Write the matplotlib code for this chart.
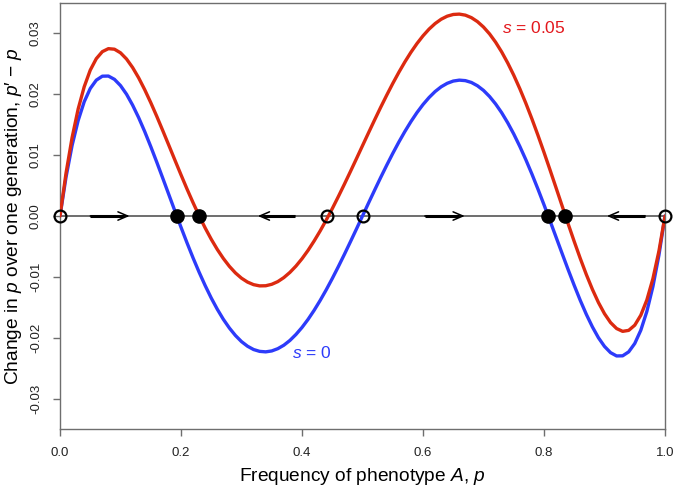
import matplotlib
matplotlib.use("Agg")
import matplotlib.pyplot as plt

plt.rcParams['font.family'] = ['Liberation Sans', 'DejaVu Sans']
plt.rcParams['mathtext.fontset'] = 'custom'
plt.rcParams['mathtext.rm'] = 'Liberation Sans'
plt.rcParams['mathtext.it'] = 'Liberation Sans:italic'

# Frequency of phenotype A
p_vals = [0.00, 0.01, 0.02, 0.03, 0.04, 0.05, 0.06, 0.07, 0.08, 0.09,
          0.10, 0.11, 0.12, 0.13, 0.14, 0.15, 0.16, 0.17, 0.18, 0.19,
          0.20, 0.21, 0.22, 0.23, 0.24, 0.25, 0.26, 0.27, 0.28, 0.29,
          0.30, 0.31, 0.32, 0.33, 0.34, 0.35, 0.36, 0.37, 0.38, 0.39,
          0.40, 0.41, 0.42, 0.43, 0.44, 0.45, 0.46, 0.47, 0.48, 0.49,
          0.50, 0.51, 0.52, 0.53, 0.54, 0.55, 0.56, 0.57, 0.58, 0.59,
          0.60, 0.61, 0.62, 0.63, 0.64, 0.65, 0.66, 0.67, 0.68, 0.69,
          0.70, 0.71, 0.72, 0.73, 0.74, 0.75, 0.76, 0.77, 0.78, 0.79,
          0.80, 0.81, 0.82, 0.83, 0.84, 0.85, 0.86, 0.87, 0.88, 0.89,
          0.90, 0.91, 0.92, 0.93, 0.94, 0.95, 0.96, 0.97, 0.98, 0.99, 1.00]

# s = 0 (blue)
dp_s0 = [0.0, 0.00639, 0.01157, 0.01564, 0.01872, 0.02089, 0.02226, 0.02291, 0.02293, 0.02239,
         0.02137, 0.01995, 0.01817, 0.01612, 0.01384, 0.01138, 0.00881, 0.00616, 0.00348, 0.00080,
         -0.00184, -0.00441, -0.00688, -0.00922, -0.01141, -0.01344, -0.01528, -0.01693, -0.01836, -0.01958,
         -0.02058, -0.02134, -0.02188, -0.02218, -0.02226, -0.02211, -0.02174, -0.02117, -0.02039, -0.01941,
         -0.01826, -0.01694, -0.01546, -0.01384, -0.01210, -0.01025, -0.00831, -0.00630, -0.00423, -0.00213,
         0.0, 0.00213, 0.00423, 0.00630, 0.00831, 0.01025, 0.01210, 0.01384, 0.01546, 0.01694,
         0.01826, 0.01941, 0.02039, 0.02117, 0.02174, 0.02211, 0.02226, 0.02218, 0.02188, 0.02134,
         0.02058, 0.01958, 0.01836, 0.01693, 0.01528, 0.01344, 0.01141, 0.00922, 0.00688, 0.00441,
         0.00184, -0.00080, -0.00348, -0.00616, -0.00881, -0.01138, -0.01384, -0.01612, -0.01817, -0.01995,
         -0.02137, -0.02239, -0.02293, -0.02291, -0.02226, -0.02089, -0.01872, -0.01564, -0.01157, -0.00639, 0.0]

# s = 0.05 (red)
dp_s05 = [0.0, 0.00705, 0.01285, 0.01753, 0.02117, 0.02390, 0.02578, 0.02693, 0.02742, 0.02733,
          0.02674, 0.02572, 0.02433, 0.02264, 0.02070, 0.01858, 0.01632, 0.01396, 0.01156, 0.00914,
          0.00675, 0.00441, 0.00217, 0.00003, -0.00197, -0.00381, -0.00548, -0.00696, -0.00825, -0.00933,
          -0.01019, -0.01083, -0.01125, -0.01145, -0.01143, -0.01119, -0.01075, -0.01009, -0.00924, -0.00821,
          -0.00700, -0.00563, -0.00410, -0.00245, -0.00067, 0.00120, 0.00317, 0.00520, 0.00728, 0.00939,
          0.01152, 0.01364, 0.01574, 0.01780, 0.01979, 0.02171, 0.02353, 0.02524, 0.02682, 0.02825,
          0.02952, 0.03062, 0.03153, 0.03224, 0.03274, 0.03302, 0.03308, 0.03291, 0.03250, 0.03185,
          0.03096, 0.02984, 0.02848, 0.02689, 0.02508, 0.02307, 0.02086, 0.01847, 0.01592, 0.01323,
          0.01043, 0.00754, 0.00460, 0.00164, -0.00131, -0.00419, -0.00697, -0.00960, -0.01202, -0.01418,
          -0.01601, -0.01746, -0.01844, -0.01890, -0.01874, -0.01789, -0.01626, -0.01376, -0.01028, -0.00573, 0.0]

# equilibria
unstable_p = [0.0, 0.441, 0.5, 1.0]
stable_p = [0.193, 0.229, 0.807, 0.835]

# arrows (tail, head)
arrow_tails = [0.050, 0.388, 0.603, 0.967]
arrow_heads = [0.115, 0.327, 0.669, 0.904]

x_ticks = [0.0, 0.2, 0.4, 0.6, 0.8, 1.0]
x_tick_labels = ["0.0", "0.2", "0.4", "0.6", "0.8", "1.0"]
y_ticks = [-0.03, -0.02, -0.01, 0.0, 0.01, 0.02, 0.03]
y_tick_labels = ["-0.03", "-0.02", "-0.01", "0.00", "0.01", "0.02", "0.03"]

RED = '#DC2A10'
RED_TXT = '#E3171C'
BLUE = '#2D3BFA'
GRAY = '#6E6E6E'

fig = plt.figure(figsize=(6.77, 4.92), dpi=100)
ax = fig.add_axes([60/677, 1-429/492, 605/677, 426/492])

ax.set_xlim(0, 1)
ax.set_ylim(-0.0349, 0.0349)

ax.plot([0, 1], [0, 0], color='#555555', lw=1.2, zorder=1)

ax.plot(p_vals, dp_s0, color=BLUE, lw=2.4, zorder=2, solid_capstyle='round',
        solid_joinstyle='round')
ax.plot(p_vals, dp_s05, color=RED, lw=2.4, zorder=3, solid_capstyle='round',
        solid_joinstyle='round')

for t, h in zip(arrow_tails, arrow_heads):
    # bold shaft
    ax.plot([t, t + 0.85 * (h - t)], [0, 0], color='black', lw=2.2,
            solid_capstyle='butt', zorder=4)
    # thin open head
    ax.annotate('', xy=(h, 0), xytext=(t, 0),
                arrowprops=dict(arrowstyle='->,head_length=0.7,head_width=0.3',
                                lw=1.1, color='black', shrinkA=0, shrinkB=0),
                zorder=4)

ax.plot(unstable_p, [0]*len(unstable_p), 'o', ms=8.5, mfc='none', mec='black',
        mew=1.6, zorder=5, clip_on=False)
ax.plot(stable_p, [0]*len(stable_p), 'o', ms=9.5, mfc='black', mec='black',
        zorder=5, clip_on=False)

ax.text(0.731, 0.0308, r'$\it{s}$ = 0.05', color=RED_TXT, fontsize=12.5,
        ha='left', va='center')
ax.text(0.383, -0.0225, r'$\it{s}$ = 0', color=BLUE, fontsize=12.5,
        ha='left', va='center')

for sp in ax.spines.values():
    sp.set_color(GRAY)
    sp.set_linewidth(1.0)

ax.set_xticks(x_ticks)
ax.set_xticklabels(x_tick_labels)
ax.set_yticks(y_ticks)
ax.set_yticklabels(y_tick_labels, rotation=90, va='center')
ax.tick_params(axis='both', direction='out', length=5, width=1.0, color=GRAY,
               labelsize=9.5, labelcolor='#222222', pad=8)

ax.set_xlabel('Frequency of phenotype $\\it{A}$, $\\it{p}$', fontsize=13.8, labelpad=5)
ax.set_ylabel("Change in $\\it{p}$ over one generation, $\\it{p}$\u2032 \u2212 $\\it{p}$",
              fontsize=13.8, labelpad=4)

fig.savefig('out.png', dpi=100)
